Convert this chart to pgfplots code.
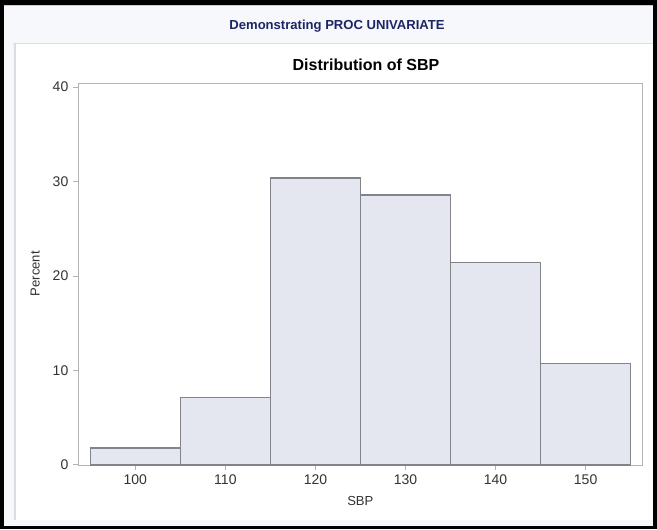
\documentclass[border=0pt]{standalone}
\usepackage{pgfplots}
\pgfplotsset{compat=1.18}
\usepackage{fontspec}
\setmainfont{Liberation Sans}
\definecolor{hdrblue}{HTML}{1C2566}
\definecolor{barfill}{HTML}{E4E7EF}
\definecolor{baredge}{HTML}{82838B}
\definecolor{axgray}{HTML}{B4B4B4}
\definecolor{txtgray}{HTML}{333333}
\definecolor{pagebg}{HTML}{F7F8FB}
\begin{document}
\begin{tikzpicture}[x=0.75pt,y=0.75pt]
% frame and backgrounds (pixel coords, y from bottom)
\fill[black] (0,0) rectangle (657,529);
\fill[pagebg] (4,3) rectangle (653,524);
\draw[gray!40,line width=0.75pt] (4,523.5) -- (653,523.5);
\fill[white] (15,9) rectangle (653,485);
\draw[gray!25,line width=0.75pt] (13,485) -- (653,485);
\draw[blue!6!gray!25,line width=1pt] (15,9) -- (15,485);
\node[font=\bfseries\fontsize{9.8}{12}\selectfont,text=hdrblue] at (337,503) {Demonstrating PROC UNIVARIATE};
\node[font=\bfseries\fontsize{12}{14}\selectfont,text=black] at (366,464) {Distribution of SBP};
\begin{axis}[
  at={(87,68)}, anchor=south west,
  width=423pt, height=286.5pt, scale only axis,
  xmin=93.67, xmax=156.3, ymin=0, ymax=40.45,
  xtick={100,110,...,150}, ytick={0,10,20,30,40},
  axis line style={axgray},
  tick style={axgray, line width=0.6pt},
  tick align=outside, major tick length=4pt,
  xtick pos=bottom, ytick pos=left,
  ticklabel style={font=\fontsize{10.5}{12}\selectfont, text=txtgray},
  /pgf/number format/assume math mode=true,
  xlabel={SBP}, ylabel={Percent},
  label style={font=\fontsize{9.8}{11}\selectfont, text=txtgray},
  xlabel style={at={(0.5,0)}, anchor=north, yshift=-20pt},
  ylabel style={at={(0,0.5)}, anchor=south, yshift=25.5pt},
  clip=false,
]
\addplot[ybar interval, fill=barfill, draw=baredge, line width=1.1pt]
  coordinates {(95,1.786) (105,7.143) (115,30.357) (125,28.571) (135,21.429) (145,10.714) (155,0)};
\end{axis}
\end{tikzpicture}
\end{document}
